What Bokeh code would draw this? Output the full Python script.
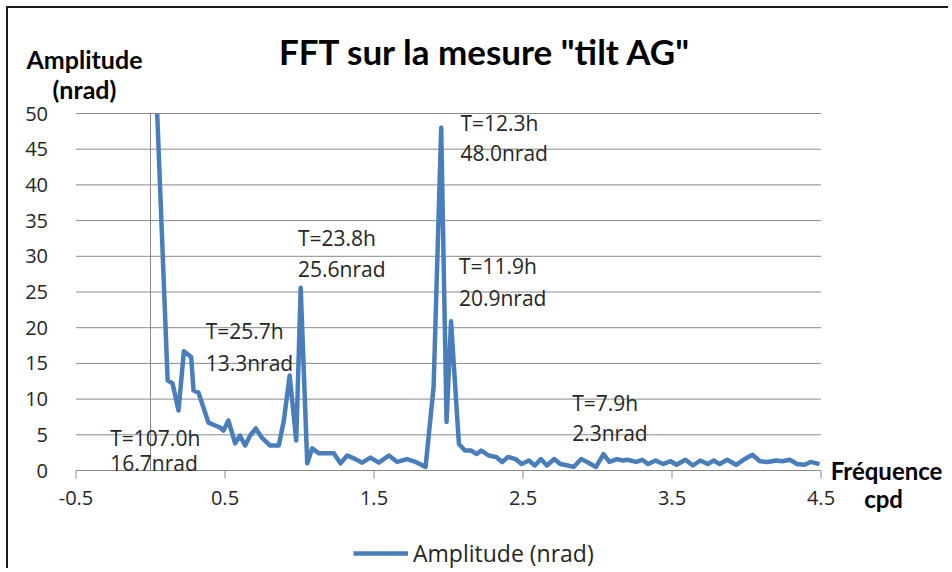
from bokeh.plotting import figure
from bokeh.models import Range1d, Label, Legend, LegendItem
from bokeh.core.properties import value
from bokeh.embed import file_html
from bokeh.resources import INLINE

# ---- data ----
freq = [0.045, 0.115, 0.148, 0.188, 0.224, 0.273, 0.289, 0.322, 0.356, 0.389, 0.434, 0.468,
        0.49, 0.523, 0.568, 0.60, 0.635, 0.669, 0.707, 0.747, 0.803, 0.861, 0.895, 0.934,
        0.978, 1.008, 1.052, 1.085, 1.13, 1.174, 1.23, 1.275, 1.32, 1.364, 1.42, 1.476,
        1.532, 1.6, 1.656, 1.72, 1.78, 1.846, 1.90, 1.951, 1.987, 2.017, 2.07, 2.11, 2.15,
        2.19, 2.22, 2.27, 2.32, 2.36, 2.40, 2.45, 2.49, 2.54, 2.58, 2.62, 2.66, 2.71, 2.75,
        2.80, 2.84, 2.89, 2.93, 2.99, 3.04, 3.08, 3.13, 3.17, 3.20, 3.26, 3.30, 3.34, 3.39,
        3.44, 3.49, 3.53, 3.59, 3.64, 3.69, 3.74, 3.78, 3.82, 3.87, 3.93, 3.98, 4.04, 4.09,
        4.14, 4.20, 4.24, 4.29, 4.34, 4.39, 4.43, 4.49]
amp = [50, 12.6, 12.2, 8.4, 16.7, 15.9, 11.2, 10.9, 8.8, 6.7, 6.3, 6.0,
       5.6, 7.0, 3.8, 4.9, 3.5, 4.9, 5.9, 4.6, 3.5, 3.5, 7.0, 13.3,
       4.2, 25.6, 1.0, 3.1, 2.4, 2.4, 2.4, 1.0, 2.1, 1.7, 1.1, 1.8,
       1.1, 2.1, 1.2, 1.6, 1.2, 0.5, 11.7, 48.0, 6.8, 20.9, 3.7, 2.8, 2.8,
       2.3, 2.8, 2.1, 1.9, 1.2, 1.9, 1.6, 0.9, 1.4, 0.7, 1.6, 0.7, 1.6, 0.9,
       0.7, 0.5, 1.6, 1.2, 0.5, 2.3, 1.2, 1.6, 1.4, 1.5, 1.2, 1.5, 0.9, 1.4,
       0.9, 1.3, 0.8, 1.5, 0.7, 1.4, 0.9, 1.4, 0.9, 1.5, 0.8, 1.5, 2.2, 1.3,
       1.2, 1.4, 1.3, 1.5, 0.9, 0.8, 1.2, 0.9]

X_MIN, X_MAX = -0.5, 4.5
Y_MIN, Y_MAX = 0, 50
x_ticks = [-0.5, 0.5, 1.5, 2.5, 3.5, 4.5]
x_tick_labels = ["-0.5", "0.5", "1.5", "2.5", "3.5", "4.5"]
y_ticks = [0, 5, 10, 15, 20, 25, 30, 35, 40, 45, 50]
y_tick_labels = [str(v) for v in y_ticks]

ann_period = ["T=107.0h", "T=25.7h", "T=23.8h", "T=12.3h", "T=11.9h", "T=7.9h"]
ann_amp = ["16.7nrad", "13.3nrad", "25.6nrad", "48.0nrad", "20.9nrad", "2.3nrad"]
ann_x = [-0.27, 0.37, 0.99, 2.08, 2.07, 2.83]
ann_y1 = [4.6, 19.5, 32.5, 48.6, 28.6, 9.5]
ann_y2 = [1.0, 15.1, 28.2, 44.4, 24.2, 5.2]

title_text = 'FFT sur la mesure "tilt AG"'
ylab1, ylab2 = "Amplitude", "(nrad)"
xlab1, xlab2 = "Fréquence", "cpd"
legend_label = "Amplitude (nrad)"

# ---- styles / layout ----
FONT = "Open Sans"
BFONT = "Lato"
BLUE = "#4a7ebb"
GRID = "#8a8a8a"
TXT = "#262626"
W, H = 942, 562
PX_X0, PX_PER_X = 142.0, 149.0      # canvas px of x = 0, px per unit
PX_Y0, PX_PER_Y = 462.0, 7.14       # canvas px (from top) of y = 0, px per unit

x_range = Range1d(-PX_X0 / PX_PER_X, (W - PX_X0) / PX_PER_X)
y_range = Range1d(-(H - PX_Y0) / PX_PER_Y, PX_Y0 / PX_PER_Y)

p = figure(width=W, height=H, output_backend="svg", toolbar_location=None,
           x_range=x_range, y_range=y_range, x_axis_type=None, y_axis_type=None,
           min_border=0, min_border_left=0, min_border_right=0,
           min_border_top=0, min_border_bottom=0)
p.styles = {"margin-top": "6px", "margin-left": "6px",
            "border-top": "2px solid #1a1a1a", "border-left": "2px solid #1a1a1a"}
p.outline_line_color = None
p.grid.visible = False
p.background_fill_color = "white"
p.border_fill_color = "white"

tick_len = 8 / PX_PER_Y

# horizontal grid lines over the plotting area
p.segment(x0=[X_MIN] * (len(y_ticks) - 1), x1=[X_MAX] * (len(y_ticks) - 1),
          y0=y_ticks[1:], y1=y_ticks[1:], line_color=GRID, line_width=1)
# vertical axis line at x = 0
p.segment(x0=[0], x1=[0], y0=[Y_MIN], y1=[Y_MAX], line_color=GRID, line_width=1)
# horizontal axis line and its tick marks
p.segment(x0=[X_MIN], x1=[X_MAX], y0=[Y_MIN], y1=[Y_MIN], line_color=GRID, line_width=1)
p.segment(x0=x_ticks, x1=x_ticks, y0=[Y_MIN] * len(x_ticks),
          y1=[Y_MIN - tick_len] * len(x_ticks), line_color=GRID, line_width=1)

# tick labels
p.text(x=[X_MIN] * len(y_ticks), y=y_ticks, text=y_tick_labels, x_offset=-28,
       text_align="right", text_baseline="middle", text_font=value(FONT),
       text_font_size="20px", text_color=TXT)
p.text(x=x_ticks, y=[Y_MIN] * len(x_ticks), text=x_tick_labels, y_offset=27,
       text_align="center", text_baseline="middle", text_font=value(FONT),
       text_font_size="20px", text_color=TXT)

# data line
r = p.line(freq, amp, line_color=BLUE, line_width=4.5, line_join="round")

# peak annotations
for t1, t2, x, y1, y2 in zip(ann_period, ann_amp, ann_x, ann_y1, ann_y2):
    for t, y in ((t1, y1), (t2, y2)):
        p.add_layout(Label(x=x, y=y, text=t, text_font=FONT, text_font_size="21px",
                           text_color=TXT, text_baseline="middle", text_align="left"))

# titles
p.add_layout(Label(x=2.248, y=58.7, text=title_text, text_font=BFONT, text_font_style="bold",
                   text_font_size="35px", text_color="black", text_align="center",
                   text_baseline="middle"))
p.add_layout(Label(x=-0.443, y=57.7, text=ylab1, text_font=BFONT, text_font_style="bold",
                   text_font_size="25px", text_color="black", text_align="center",
                   text_baseline="middle"))
p.add_layout(Label(x=-0.443, y=53.5, text=ylab2, text_font=BFONT, text_font_style="bold",
                   text_font_size="25px", text_color="black", text_align="center",
                   text_baseline="middle"))
p.add_layout(Label(x=4.94, y=0.0, text=xlab1, text_font=BFONT, text_font_style="bold",
                   text_font_size="24px", text_color="black", text_align="center",
                   text_baseline="middle"))
p.add_layout(Label(x=4.92, y=-3.92, text=xlab2, text_font=BFONT, text_font_style="bold",
                   text_font_size="24px", text_color="black", text_align="center",
                   text_baseline="middle"))

legend = Legend(items=[LegendItem(label=legend_label, renderers=[r])], location=(345, 1),
                orientation="horizontal", border_line_color=None, background_fill_alpha=0,
                padding=0, margin=0, glyph_width=55, glyph_height=24, label_height=24,
                label_standoff=5, label_text_font=FONT, label_text_font_size="23px",
                label_text_color=TXT)
p.add_layout(legend, "center")

open("out.html", "w").write(file_html(p, INLINE))
